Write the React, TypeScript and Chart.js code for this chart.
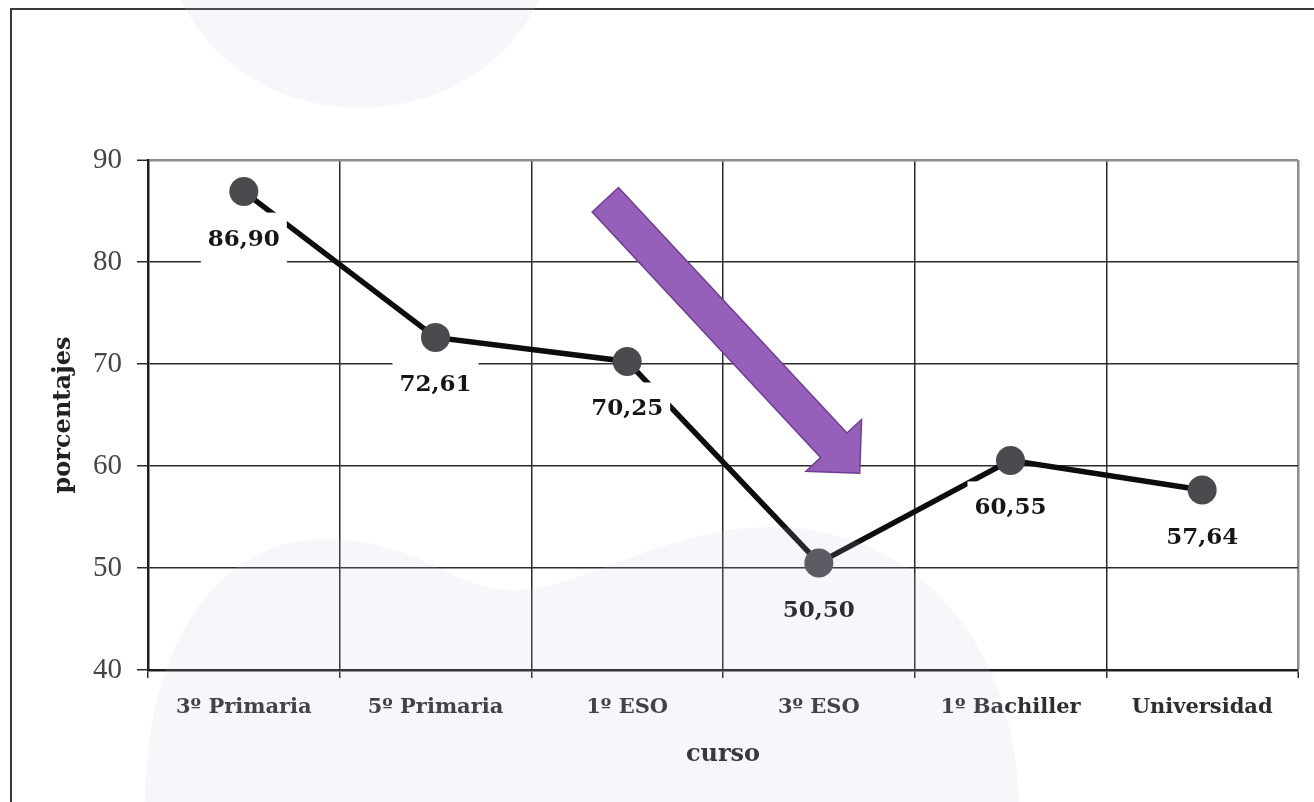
import { useEffect, useRef } from 'react';
import { Chart, registerables } from 'chart.js';

Chart.register(...registerables);

// ---- data ----
const categories = ['3º Primaria', '5º Primaria', '1º ESO', '3º ESO', '1º Bachiller', 'Universidad'];
const percentages = [86.9, 72.61, 70.25, 50.5, 60.55, 57.64];
const yMin = 40;
const yMax = 90;
const yStep = 10;
const xTitle = 'curso';
const yTitle = 'porcentajes';
// arrow annotation, in data units: [category index, value]
const arrowTail = [1.886, 86.1];
const arrowTip = [3.213, 59.3];

const fmt = (v: number) => v.toFixed(2).replace('.', ',');

const framePlugin = {
  id: 'frame',
  beforeDraw(chart: any) {
    const ctx = chart.ctx;
    ctx.save();
    ctx.fillStyle = '#ffffff';
    ctx.fillRect(0, 0, chart.width, chart.height);
    ctx.strokeStyle = '#3a3a3a';
    ctx.lineWidth = 2;
    ctx.strokeRect(11, 9, chart.width + 50, chart.height + 50);
    ctx.restore();
  },
};

const arrowPlugin = {
  id: 'arrow',
  afterDatasetsDraw(chart: any) {
    const xs = chart.scales.x;
    const ys = chart.scales.y;
    const tx = xs.getPixelForValue(arrowTail[0]);
    const ty = ys.getPixelForValue(arrowTail[1]);
    const px = xs.getPixelForValue(arrowTip[0]);
    const py = ys.getPixelForValue(arrowTip[1]);
    const dx = px - tx;
    const dy = py - ty;
    const len = Math.hypot(dx, dy);
    const ux = dx / len;
    const uy = dy / len;
    const nx = -uy;
    const ny = ux;
    const headLen = 38;
    const shaftHalf = 18;
    const headHalf = 38;
    const bx = px - ux * headLen;
    const by = py - uy * headLen;
    const ctx = chart.ctx;
    ctx.save();
    ctx.beginPath();
    ctx.moveTo(tx + nx * shaftHalf, ty + ny * shaftHalf);
    ctx.lineTo(bx + nx * shaftHalf, by + ny * shaftHalf);
    ctx.lineTo(bx + nx * headHalf, by + ny * headHalf);
    ctx.lineTo(px, py);
    ctx.lineTo(bx - nx * headHalf, by - ny * headHalf);
    ctx.lineTo(bx - nx * shaftHalf, by - ny * shaftHalf);
    ctx.lineTo(tx - nx * shaftHalf, ty - ny * shaftHalf);
    ctx.closePath();
    ctx.fillStyle = '#965fba';
    ctx.fill();
    ctx.strokeStyle = '#6f3e92';
    ctx.lineWidth = 1.5;
    ctx.stroke();
    ctx.restore();
  },
};

const valueLabelPlugin = {
  id: 'valueLabels',
  afterDatasetsDraw(chart: any) {
    const meta = chart.getDatasetMeta(0);
    const ctx = chart.ctx;
    ctx.save();
    ctx.font = 'bold 23px "DejaVu Serif"';
    ctx.textAlign = 'center';
    ctx.textBaseline = 'middle';
    meta.data.forEach((pt: any, i: number) => {
      const cx = pt.x;
      const cy = pt.y + 48;
      ctx.fillStyle = '#ffffff';
      ctx.fillRect(cx - 43, cy - 27, 86, 54);
      ctx.fillStyle = '#161616';
      ctx.fillText(fmt(percentages[i]), cx, cy);
    });
    ctx.restore();
  },
};

const overlayPlugin = {
  id: 'overlay',
  afterDraw(chart: any) {
    const ctx = chart.ctx;
    ctx.save();
    ctx.fillStyle = 'rgba(205,190,225,0.14)';
    ctx.beginPath();
    ctx.ellipse(360, -70, 195, 178, 0, 0, Math.PI * 2);
    ctx.closePath();
    ctx.fill();
    ctx.beginPath();
    ctx.moveTo(145, 810);
    ctx.bezierCurveTo(145, 640, 220, 539, 324, 539);
    ctx.bezierCurveTo(420, 539, 450, 590, 514, 590);
    ctx.bezierCurveTo(585, 590, 660, 527, 773, 527);
    ctx.bezierCurveTo(920, 527, 1019, 650, 1019, 810);
    ctx.closePath();
    ctx.fill();
    ctx.restore();
  },
};

export default function App() {
  const ref = useRef<HTMLCanvasElement>(null);

  useEffect(() => {
    const chart = new Chart(ref.current as HTMLCanvasElement, {
      type: 'line',
      data: {
        labels: categories,
        datasets: [
          {
            data: percentages,
            borderColor: '#0d0d0d',
            borderWidth: 5.5,
            pointRadius: 14.5,
            pointHoverRadius: 14.5,
            pointBackgroundColor: '#4b4b4f',
            pointBorderWidth: 0,
            tension: 0,
            clip: false as any,
          },
        ],
      },
      options: {
        responsive: false,
        animation: false,
        devicePixelRatio: 1,
        layout: { padding: { left: 20, top: 160, right: 16, bottom: 0 } },
        plugins: {
          legend: { display: false },
          tooltip: { enabled: false },
        },
        scales: {
          x: {
            type: 'category',
            offset: true,
            afterFit: (s: any) => {
              s.height = 132;
            },
            grid: {
              offset: true,
              color: (c: any) => (c.type === 'tick' ? '#2b2b2b' : '#8c8c8c'),
              lineWidth: (c: any) => (c.type === 'tick' ? 1.5 : 2.5),
              tickColor: '#2b2b2b',
              tickWidth: 1.5,
              tickLength: 8,
              drawTicks: true,
            },
            border: { display: true, color: '#1e1e1e', width: 2.5 },
            ticks: {
              color: '#2e2e2e',
              padding: 17,
              maxRotation: 0,
              autoSkip: false,
              font: { family: '"DejaVu Serif"', size: 21, weight: 'bold' },
            },
            title: {
              display: true,
              text: xTitle,
              color: '#222222',
              font: { family: '"DejaVu Serif"', size: 24, weight: 'bold' },
              padding: { top: 0, bottom: 33 },
            },
          },
          y: {
            min: yMin,
            max: yMax,
            afterFit: (s: any) => {
              s.width = 128;
            },
            ticks: {
              stepSize: yStep,
              color: '#454545',
              padding: 15,
              font: { family: '"Liberation Serif"', size: 29 },
            },
            grid: {
              color: (c: any) => (c.tick && c.tick.value === yMax ? '#8c8c8c' : '#2b2b2b'),
              lineWidth: (c: any) => (c.tick && c.tick.value === yMax ? 2.5 : 1.5),
              tickColor: '#2b2b2b',
              tickWidth: 1.5,
              tickLength: 11,
            },
            border: { display: true, color: '#1e1e1e', width: 2.5 },
            title: {
              display: true,
              text: yTitle,
              color: '#222222',
              font: { family: '"DejaVu Serif"', size: 24, weight: 'bold' },
              padding: { top: 29, bottom: 0 },
            },
          },
        },
      },
      plugins: [framePlugin, arrowPlugin, valueLabelPlugin, overlayPlugin],
    } as any);
    return () => chart.destroy();
  }, []);

  return (
    <div style={{ position: 'fixed', left: 0, top: 0, width: 1314, height: 802, background: '#fff' }}>
      <canvas ref={ref} width={1314} height={802} style={{ display: 'block', width: 1314, height: 802 }} />
    </div>
  );
}
